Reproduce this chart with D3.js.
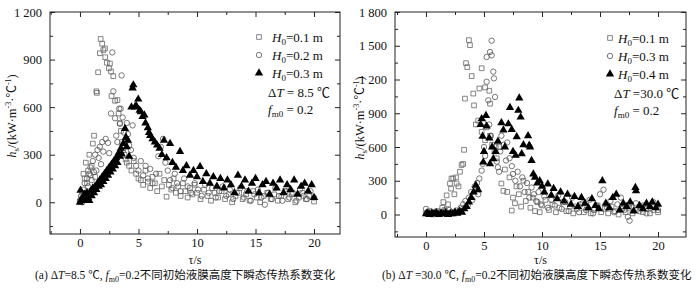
<!DOCTYPE html>
<html lang="zh">
<head>
<meta charset="UTF-8">
<title>h_s</title>
<script src="https://cdn.jsdelivr.net/npm/d3@7"></script>
<style>
  body { margin: 0; background: #fff; }
  text { font-family: "Liberation Serif", "Noto Sans CJK SC", serif; fill: #111; }
</style>
</head>
<body>
<script type="text/javascript">
    // (a) dT = 8.5, 每组为 [t, h]
    var sqA = [[0,5],[0.1,20],[0.2,60],[0.3,180],[0.4,150],[0.5,250],[0.6,120],[0.7,200],[0.8,300],[0.9,170],[1.0,230],[1.1,370],[1.2,420],[1.3,160],[1.4,700],[1.45,690],[1.55,820],[1.7,940],[1.77,1030],[1.9,1000],[2.0,960],[2.14,970],[2.16,915],[2.3,880],[2.48,845],[2.56,875],[2.65,825],[2.7,670],[2.85,795],[3.0,640],[3.2,645],[3.3,560],[3.4,500],[3.5,450],[3.6,380],[3.7,330],[3.8,300],[3.9,270],[4.0,250],[4.2,230],[4.4,200],[4.6,260],[4.8,180],[5.0,150],[5.2,140],[5.4,110],[5.6,200],[5.8,130],[6.0,90],[6.2,160],[6.4,120],[6.6,70],[6.8,180],[7.0,100],[7.2,140],[7.4,35],[7.6,110],[7.8,80],[8.0,150],[8.2,60],[8.4,100],[8.6,40],[8.8,120],[9.0,70],[9.2,30],[9.4,90],[9.6,50],[9.8,110],[10.0,60],[10.3,20],[10.6,80],[10.9,40],[11.2,10],[11.5,60],[11.8,30],[12.1,70],[12.4,20],[12.7,50],[13.0,0],[13.3,40],[13.6,60],[13.9,20],[14.2,50],[14.5,10],[14.8,70],[15.1,30],[15.4,0],[15.7,40],[16.0,60],[16.3,20],[16.6,50],[16.9,10],[17.2,40],[17.5,70],[17.8,20],[18.1,50],[18.4,0],[18.7,30],[19.0,60],[19.3,20],[19.6,40],[20.0,5]];
    var ciA = [[0,10],[0.1,40],[0.2,0],[0.3,80],[0.4,120],[0.5,60],[0.6,150],[0.7,100],[0.8,180],[0.9,220],[1.0,140],[1.1,260],[1.2,190],[1.3,300],[1.4,200],[1.5,330],[1.6,280],[1.7,350],[1.8,240],[1.9,380],[2.0,320],[2.2,400],[2.4,375],[2.5,310],[2.65,560],[2.76,945],[2.85,700],[3.0,530],[3.1,420],[3.2,380],[3.35,590],[3.42,495],[3.48,590],[3.56,800],[3.65,535],[3.75,440],[3.85,380],[4.0,500],[4.1,430],[4.2,360],[4.35,330],[4.5,485],[4.6,280],[4.8,230],[5.0,200],[5.2,260],[5.4,170],[5.6,230],[5.8,150],[6.0,210],[6.2,120],[6.5,180],[6.7,290],[6.9,350],[7.1,400],[7.3,250],[7.5,200],[7.7,140],[7.9,90],[8.1,180],[8.3,120],[8.6,70],[8.9,150],[9.2,100],[9.5,60],[9.8,120],[10.1,80],[10.4,40],[10.7,110],[11.0,60],[11.3,90],[11.6,30],[11.9,70],[12.2,100],[12.5,40],[12.8,80],[13.1,20],[13.4,60],[13.7,90],[14.0,30],[14.3,70],[14.6,10],[14.9,50],[15.2,80],[15.5,30],[15.8,-15],[16.1,60],[16.4,20],[16.7,90],[17.0,40],[17.3,10],[17.6,70],[17.9,30],[18.2,60],[18.5,10],[18.8,80],[19.1,40],[19.4,20],[19.7,70],[20.0,30]];
    var trA = [[0,0],[0.05,75],[0.2,30],[0.3,10],[0.4,50],[0.5,20],[0.6,60],[0.7,30],[0.8,10],[0.9,70],[1.0,40],[1.1,90],[1.2,60],[1.3,100],[1.4,80],[1.5,120],[1.6,100],[1.7,140],[1.8,110],[1.9,160],[2.0,130],[2.1,180],[2.2,150],[2.3,200],[2.4,170],[2.5,220],[2.6,190],[2.7,240],[2.8,210],[2.9,260],[3.0,230],[3.1,280],[3.2,250],[3.3,310],[3.4,290],[3.5,340],[3.56,305],[3.7,370],[3.85,465],[3.93,410],[4.0,350],[4.1,390],[4.2,290],[4.4,600],[4.5,720],[4.56,740],[4.7,600],[4.8,610],[4.98,650],[5.1,580],[5.2,570],[5.35,540],[5.5,550],[5.6,500],[5.8,470],[5.9,440],[6.0,420],[6.2,400],[6.4,380],[6.6,360],[6.8,340],[7.0,300],[7.18,390],[7.4,280],[7.7,370],[7.9,250],[8.2,220],[8.55,320],[8.8,200],[9.1,230],[9.4,170],[9.7,200],[10.0,160],[10.26,225],[10.5,130],[10.8,180],[11.1,120],[11.4,160],[11.7,100],[12.0,150],[12.3,90],[12.6,140],[12.9,110],[13.2,60],[13.5,170],[13.8,100],[14.1,140],[14.4,70],[14.7,120],[15.0,150],[15.3,60],[15.6,110],[15.9,130],[16.2,50],[16.5,120],[16.8,90],[17.1,140],[17.4,60],[17.7,110],[18.0,80],[18.3,140],[18.6,50],[18.9,100],[19.2,120],[19.5,70],[19.8,110],[20.0,30]];

    // (b) dT = 30.0
    var sqB = [[0,10],[0.2,5],[0.4,20],[0.6,0],[0.8,15],[1.0,30],[1.2,10],[1.4,60],[1.5,110],[1.6,40],[1.78,170],[1.9,90],[2.07,275],[2.16,230],[2.2,320],[2.35,320],[2.45,180],[2.59,330],[2.64,275],[2.8,250],[2.93,380],[3.07,440],[3.2,450],[3.28,575],[3.36,1030],[3.45,1345],[3.56,1310],[3.7,1550],[3.79,1505],[3.94,1230],[4.08,1075],[4.14,970],[4.3,800],[4.5,835],[4.6,1120],[4.8,1300],[4.8,735],[4.94,820],[5.09,1130],[5.09,660],[5.23,775],[5.46,1100],[5.52,985],[5.52,700],[5.7,620],[5.9,560],[6.1,500],[6.3,600],[6.5,275],[6.67,210],[6.8,400],[7.0,200],[7.2,330],[7.39,35],[7.5,150],[7.67,100],[7.8,250],[8.0,180],[8.2,70],[8.4,300],[8.6,120],[8.8,200],[9.0,60],[9.2,150],[9.4,30],[9.6,110],[9.8,20],[10.0,80],[10.3,130],[10.6,40],[10.9,90],[11.2,20],[11.5,60],[11.8,110],[12.1,30],[12.4,70],[12.7,10],[13.0,50],[13.3,90],[13.6,20],[13.9,60],[14.2,10],[14.5,40],[14.8,80],[15.1,20],[15.4,50],[15.7,10],[16.0,70],[16.3,30],[16.6,0],[16.9,50],[17.2,20],[17.5,60],[17.8,10],[18.1,40],[18.4,70],[18.7,20],[19.0,50],[19.3,10],[19.6,40],[20.0,20]];
    var ciB = [[0,50],[0.2,20],[0.4,30],[0.6,10],[0.8,25],[1.0,5],[1.2,20],[1.4,10],[1.6,30],[1.8,15],[2.0,40],[2.2,20],[2.4,10],[2.6,35],[2.8,20],[3.0,60],[3.2,90],[3.4,120],[3.6,80],[3.7,150],[3.9,200],[4.0,130],[4.2,250],[4.4,280],[4.5,180],[4.6,320],[4.8,390],[4.9,450],[5.0,600],[5.1,520],[5.23,1180],[5.23,1400],[5.37,1015],[5.45,800],[5.52,1445],[5.6,700],[5.66,1545],[5.66,1415],[5.8,1270],[5.86,1210],[5.95,1045],[6.0,600],[6.1,470],[6.2,420],[6.3,380],[6.4,560],[6.5,700],[6.7,620],[6.9,480],[7.0,640],[7.2,500],[7.4,430],[7.5,360],[7.7,300],[7.9,380],[8.1,250],[8.3,330],[8.5,200],[8.7,280],[8.9,150],[9.1,240],[9.3,180],[9.5,120],[9.7,200],[9.9,90],[10.2,160],[10.5,60],[10.8,130],[11.1,80],[11.4,170],[11.7,50],[12.0,110],[12.3,30],[12.6,150],[12.9,70],[13.2,20],[13.5,100],[13.8,40],[14.1,130],[14.4,10],[14.7,80],[15.0,180],[15.3,220],[15.6,60],[15.9,120],[16.2,20],[16.5,90],[16.8,150],[17.1,40],[17.4,-20],[17.55,-55],[17.8,60],[18.1,100],[18.4,30],[18.7,80],[19.0,10],[19.3,60],[19.6,110],[20.0,40]];
    var trB = [[0,5],[0.1,15],[0.3,0],[0.5,10],[0.7,5],[0.9,15],[1.1,0],[1.3,10],[1.5,5],[1.7,15],[1.9,0],[2.1,10],[2.3,5],[2.5,20],[2.7,10],[2.9,30],[3.1,20],[3.3,50],[3.5,70],[3.7,110],[3.9,150],[4.1,200],[4.3,260],[4.5,220],[4.71,800],[4.8,850],[4.88,695],[4.94,465],[5.0,560],[5.17,880],[5.23,785],[5.46,680],[5.52,450],[5.7,600],[5.8,495],[6.0,560],[6.2,650],[6.5,815],[6.67,750],[6.8,600],[7.1,805],[7.24,950],[7.39,755],[7.5,560],[7.73,525],[7.82,690],[7.96,925],[8.04,1035],[8.16,865],[8.25,540],[8.4,620],[8.8,700],[8.9,615],[8.97,600],[9.1,480],[9.25,360],[9.4,330],[9.6,280],[9.8,300],[10.0,250],[10.2,200],[10.5,270],[10.8,170],[11.0,230],[11.3,140],[11.6,200],[11.9,120],[12.2,180],[12.5,90],[12.8,160],[13.1,70],[13.4,150],[13.7,100],[14.0,60],[14.3,140],[14.6,80],[14.9,50],[15.2,300],[15.5,100],[15.8,60],[16.1,150],[16.4,180],[16.7,40],[17.0,100],[17.3,70],[17.6,110],[17.9,30],[18.05,240],[18.1,210],[18.4,80],[18.7,50],[19.0,100],[19.3,70],[19.5,110],[19.8,60],[20.0,90]];

    var xTicks = [0, 5, 10, 15, 20];
    var yTicksA = [0, 300, 600, 900, 1200];
    var yTicksB = [0, 300, 600, 900, 1200, 1500, 1800];
    var legendA = ['0.1', '0.2', '0.3'];
    var legendB = ['0.1', '0.3', '0.4'];

    var fmt = d3.formatLocale({decimal: '.', thousands: ' ', grouping: [3], currency: ['', '']}).format(',');

    var svg = d3.select('body').append('svg')
            .attr('width', 699)
            .attr('height', 290);

    function panel(o) {
        var x = d3.scaleLinear().domain(o.xd).range([o.x0, o.x1]);
        var y = d3.scaleLinear().domain(o.yd).range([o.y1, o.y0]);
        var g = svg.append('g');

        var xMinor = d3.range(-2.5, 22.5, 2.5).filter(function (d) { return d % 5 !== 0; });
        var yMinor = d3.range(-150, o.yd[1], 300);

        // 刻度 (向内)
        g.append('g').attr('transform', 'translate(0,' + o.y1 + ')')
                .call(d3.axisBottom(x).tickValues(xTicks).tickSize(-5).tickPadding(4));
        g.append('g').attr('transform', 'translate(0,' + o.y1 + ')')
                .call(d3.axisBottom(x).tickValues(xMinor).tickSize(-3).tickFormat(''));
        g.append('g').attr('transform', 'translate(0,' + o.y0 + ')')
                .call(d3.axisTop(x).tickValues(xTicks).tickSize(-5).tickFormat(''));
        g.append('g').attr('transform', 'translate(0,' + o.y0 + ')')
                .call(d3.axisTop(x).tickValues(xMinor).tickSize(-3).tickFormat(''));
        g.append('g').attr('transform', 'translate(' + o.x0 + ',0)')
                .call(d3.axisLeft(y).tickValues(o.yTicks).tickSize(-5).tickPadding(8).tickFormat(fmt));
        g.append('g').attr('transform', 'translate(' + o.x0 + ',0)')
                .call(d3.axisLeft(y).tickValues(yMinor).tickSize(-3).tickFormat(''));
        g.append('g').attr('transform', 'translate(' + o.x1 + ',0)')
                .call(d3.axisRight(y).tickValues(o.yTicks).tickSize(-5).tickFormat(''));
        g.append('g').attr('transform', 'translate(' + o.x1 + ',0)')
                .call(d3.axisRight(y).tickValues(yMinor).tickSize(-3).tickFormat(''));
        g.selectAll('.domain').remove();
        g.selectAll('.tick line').attr('stroke', '#222');
        g.selectAll('.tick text').attr('font-size', 12.5)
                .attr('font-family', '"Liberation Serif", serif').attr('fill', '#111');

        g.append('rect')
                .attr('x', o.x0).attr('y', o.y0)
                .attr('width', o.x1 - o.x0).attr('height', o.y1 - o.y0)
                .attr('fill', 'none').attr('stroke', '#222').attr('stroke-width', 1);

        var sq = d3.symbol().type(d3.symbolSquare).size(22);
        var tri = d3.symbol().type(d3.symbolTriangle).size(30);

        g.selectAll('.sq').data(o.sq).enter().append('path')
                .attr('d', sq)
                .attr('transform', function (d) { return 'translate(' + x(d[0]) + ',' + y(d[1]) + ')'; })
                .attr('fill', 'none').attr('stroke', '#666').attr('stroke-width', 0.8);
        g.selectAll('.ci').data(o.ci).enter().append('circle')
                .attr('cx', function (d) { return x(d[0]); })
                .attr('cy', function (d) { return y(d[1]); })
                .attr('r', 2.7)
                .attr('fill', 'none').attr('stroke', '#555').attr('stroke-width', 0.8);
        g.selectAll('.tr').data(o.tr).enter().append('path')
                .attr('d', tri)
                .attr('transform', function (d) { return 'translate(' + x(d[0]) + ',' + y(d[1]) + ')'; })
                .attr('fill', '#000');

        // 图例
        var lg = g.append('g');
        o.legend.forEach(function (v, i) {
            var ly = o.ly + i * 18;
            var m;
            if (i === 0) m = lg.append('path').attr('d', sq).attr('fill', 'none').attr('stroke', '#666').attr('stroke-width', 0.8);
            else if (i === 1) m = lg.append('circle').attr('r', 2.7).attr('fill', 'none').attr('stroke', '#555').attr('stroke-width', 0.8);
            else m = lg.append('path').attr('d', tri).attr('fill', '#000');
            m.attr('transform', 'translate(' + o.lmx + ',' + ly + ')');
            var t = lg.append('text').attr('x', o.ltx).attr('y', ly + 4.5).attr('font-size', 13);
            t.append('tspan').attr('font-style', 'italic').text('H');
            t.append('tspan').attr('font-size', 9).attr('dy', 3).text('0');
            t.append('tspan').attr('dy', -3).text('=' + v + ' m');
        });
        var t1 = lg.append('text').attr('x', o.ltx - 4).attr('y', o.ly + 60).attr('font-size', 13);
        t1.append('tspan').text('Δ');
        t1.append('tspan').attr('font-style', 'italic').text('T');
        t1.append('tspan').text(o.dT);
        var t2 = lg.append('text').attr('x', o.ltx - 4).attr('y', o.ly + 77).attr('font-size', 13);
        t2.append('tspan').attr('font-style', 'italic').text('f');
        t2.append('tspan').attr('font-size', 9).attr('dy', 3).text('m0');
        t2.append('tspan').attr('dy', -3).text(' = 0.2');

        // 轴标题
        var yl = svg.append('text')
                .attr('transform', 'translate(' + o.ylx + ',' + o.yly + ') rotate(-90)')
                .attr('text-anchor', 'middle').attr('font-size', 12.5);
        yl.append('tspan').attr('font-style', 'italic').text('h');
        yl.append('tspan').attr('font-size', 9).attr('dy', 3).text('s');
        yl.append('tspan').attr('dy', -3).text('/(kW·m');
        yl.append('tspan').attr('font-size', 8).attr('dy', -5).text('-3');
        yl.append('tspan').attr('dy', 5).text('·℃');
        yl.append('tspan').attr('font-size', 8).attr('dy', -5).text('-1');
        yl.append('tspan').attr('dy', 5).text(')');

        svg.append('text')
                .attr('x', (o.x0 + o.x1) / 2).attr('y', 264)
                .attr('text-anchor', 'middle').attr('font-size', 12)
                .text('τ/s');

        var cap = svg.append('text')
                .attr('x', o.capx).attr('y', 279).attr('font-size', 11.5);
        cap.append('tspan').text(o.capA);
        cap.append('tspan').attr('font-style', 'italic').text('T');
        cap.append('tspan').text(o.capB);
        cap.append('tspan').attr('font-style', 'italic').text('f');
        cap.append('tspan').attr('font-size', 8).attr('dy', 3).text('m0');
        cap.append('tspan').attr('dy', -3).text('=0.2不同初始液膜高度下瞬态传热系数变化');
    }

    panel({
        x0: 50, x1: 340, y0: 12, y1: 234,
        xd: [-2.56, 22.22], yd: [-200, 1200], yTicks: yTicksA,
        sq: sqA, ci: ciA, tr: trA,
        legend: legendA, lmx: 259, ltx: 272, ly: 37, dT: ' = 8.5 ℃',
        ylx: 16, yly: 116,
        capx: 35, capA: '(a) Δ', capB: '=8.5 ℃, '
    });
    panel({
        x0: 395, x1: 686, y0: 12, y1: 237,
        xd: [-2.67, 22.41], yd: [-200, 1800], yTicks: yTicksB,
        sq: sqB, ci: ciB, tr: trB,
        legend: legendB, lmx: 610, ltx: 618, ly: 38, dT: ' =30.0 ℃',
        ylx: 364, yly: 118,
        capx: 382, capA: '(b) Δ', capB: ' =30.0 ℃, '
    });
</script>
</body>
</html>
